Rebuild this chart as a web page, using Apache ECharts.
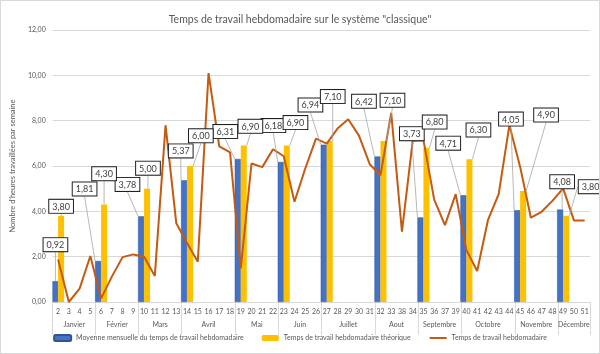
<!DOCTYPE html>
<html lang="fr">
<head>
<meta charset="UTF-8">
<title>Temps de travail hebdomadaire</title>
<script src="https://cdn.jsdelivr.net/npm/echarts@6/dist/echarts.min.js"></script>
<style>
  html, body { margin: 0; padding: 0; background: #ffffff; }
  #chart { width: 600px; height: 354px; box-sizing: border-box; border: 1px solid #d9d9d9; overflow: hidden; }
</style>
</head>
<body>
<div id="chart"></div>
<script>
// semaines (ordre de l'axe tel qu'affiché, 38 est entre 33 et 34)
const weeks = ['2', '3', '4', '5', '6', '7', '8', '9', '10', '11', '12', '13', '14', '15', '16', '17', '18',
  '19', '20', '21', '22', '23', '24', '25', '26', '27', '28', '29', '30', '31', '32', '33', '38', '34',
  '35', '36', '37', '39', '40', '41', '42', '43', '44', '45', '46', '47', '48', '49', '50', '51'];
const weeklyHours = [1.88, 0.00, 0.59, 2.03, 0.16, 1.12, 1.98, 2.10, 2.00, 1.15, 7.80, 3.47, 2.60, 1.78, 10.10, 6.87, 6.60,
  1.48, 6.11, 5.95, 6.74, 6.43, 4.42, 5.89, 7.21, 6.99, 7.65, 8.06, 7.34, 6.08, 5.59, 8.34, 3.10, 7.11,
  7.14, 4.52, 3.39, 4.76, 2.29, 1.37, 3.61, 4.76, 7.80, 5.96, 3.72, 3.98, 4.46, 5.01, 3.60, 3.60];

const months = ['Janvier', 'Février', 'Mars', 'Avril', 'Mai', 'Juin', 'Juillet', 'Aout', 'Septembre', 'Octobre', 'Novembre', 'Décembre'];
const monthWeekCount = [4, 4, 4, 5, 4, 4, 5, 4, 4, 5, 4, 3];
const monthlyAverage = [0.92, 1.81, 3.78, 5.37, 6.31, 6.18, 6.94, 6.42, 3.73, 4.71, 4.05, 4.08];
const theoreticalHours = [3.80, 4.30, 5.00, 6.00, 6.90, 6.90, 7.10, 7.10, 6.80, 6.30, 4.90, 3.80];

// décalage des étiquettes (dx, dy) par mois
const blueShift = [[0, -30], [-13.5, -65.5], [-13.6, -25.4], [-3.3, -22.9], [-12.5, -20.9], [-7.4, -29.8],
  [-13.3, -33.2], [-13.5, -48.7], [-8.6, -77.3], [-15.2, -45.6], [-6.2, -84.6], [2, -21.3]];
const yellowShift = [[0, -3], [0, -24.3], [0.9, -14], [10.8, -23.7], [6.6, -12.8], [8.7, -16.5],
  [3, -38], [9, -34.3], [8.2, -19.3], [9, -22.7], [22.9, -69.4], [24.5, -22.7]];

const starts = [];
let acc = 0;
monthWeekCount.forEach(n => { starts.push(acc); acc += n; });
const boundaries = starts.concat([acc]);

const blueData = weeks.map(() => '-');
const yellowData = weeks.map(() => '-');
starts.forEach((s, i) => {
  blueData[s] = monthlyAverage[i];
  yellowData[s] = theoreticalHours[i];
});

const fmt = v => v.toFixed(2).replace('.', ',');
const FONT = 'Lato';
const GREY = '#595959';
const BLUE_NAME = 'Moyenne mensuelle du temps de travail hebdomadaire';
const YELLOW_NAME = 'Temps de travail hebdomadaire théorique';
const LINE_NAME = 'Temps de travail hebdomadaire';

const boxLabel = {
  show: true,
  position: 'top',
  distance: 0,
  formatter: p => fmt(p.value),
  fontFamily: FONT,
  fontSize: 9,
  lineHeight: 10,
  color: '#404040',
  backgroundColor: '#ffffff',
  borderColor: '#1f1f1f',
  borderWidth: 1,
  padding: [2, 3, 1, 3]
};

function shiftLayout(shift) {
  return function (p) {
    const m = starts.indexOf(p.dataIndex);
    if (m < 0) return {};
    return { dx: shift[m][0], dy: shift[m][1] };
  };
}

// étiquettes portées par des barres transparentes, sur un axe caché identique,
// pour passer au-dessus de la courbe
function labelSeries(name, data, shift) {
  return {
    name: name,
    type: 'bar',
    xAxisIndex: 2,
    data: data,
    barWidth: 6,
    barGap: '0%',
    itemStyle: { color: 'rgba(0,0,0,0)' },
    label: boxLabel,
    labelLine: { show: true, lineStyle: { color: '#a6a6a6', width: 0.8 } },
    labelLayout: shiftLayout(shift),
    silent: true,
    z: 5
  };
}

const chart = echarts.init(document.getElementById('chart'));

chart.setOption({
  animation: false,
  textStyle: { fontFamily: FONT },
  title: {
    text: 'Temps de travail hebdomadaire sur le système "classique"',
    left: 'center',
    top: 8,
    textStyle: { fontFamily: FONT, fontSize: 10.5, fontWeight: 'normal', color: GREY }
  },
  legend: {
    bottom: 6,
    left: 'center',
    itemGap: 18,
    itemWidth: 17,
    itemHeight: 6,
    textStyle: { fontFamily: FONT, fontSize: 7, color: GREY },
    data: [
      BLUE_NAME,
      YELLOW_NAME,
      { name: LINE_NAME, itemStyle: { opacity: 0 } }
    ]
  },
  grid: { left: 44, right: 9, top: 29, bottom: 51 },
  xAxis: [
    {
      type: 'category',
      data: weeks,
      axisLine: { lineStyle: { color: '#d9d9d9' } },
      axisTick: {
        show: true,
        length: 33,
        interval: (index) => boundaries.indexOf(index) >= 0,
        lineStyle: { color: '#d9d9d9' }
      },
      axisLabel: { interval: 0, fontFamily: FONT, fontSize: 7, color: GREY, margin: 6 }
    },
    {
      type: 'value',
      min: 0,
      max: 50,
      interval: 0.5,
      position: 'bottom',
      offset: 14,
      axisLine: { show: false },
      axisTick: { show: false },
      splitLine: { show: false },
      axisLabel: {
        fontFamily: FONT,
        fontSize: 7,
        color: GREY,
        margin: 5,
        formatter: v => {
          for (let i = 0; i < months.length; i++) {
            if (starts[i] + monthWeekCount[i] / 2 === v) return months[i];
          }
          return '';
        }
      }
    },
    {
      type: 'category',
      data: weeks,
      show: false
    }
  ],
  yAxis: {
    type: 'value',
    min: 0,
    max: 12,
    interval: 2,
    name: "Nombre d'heures travaillées par semaine",
    nameLocation: 'middle',
    nameGap: 29,
    nameTextStyle: { fontFamily: FONT, fontSize: 7.5, color: GREY },
    axisLine: { show: false },
    axisTick: { show: false },
    axisLabel: { formatter: fmt, fontFamily: FONT, fontSize: 7, color: GREY, margin: 7 },
    splitLine: { lineStyle: { color: '#d9d9d9' } }
  },
  series: [
    {
      name: BLUE_NAME,
      type: 'bar',
      data: blueData,
      barWidth: 6,
      barGap: '0%',
      itemStyle: { color: '#4472c4', borderColor: '#2f5597', borderWidth: 0.5 },
      z: 2
    },
    {
      name: YELLOW_NAME,
      type: 'bar',
      data: yellowData,
      barWidth: 6,
      barGap: '0%',
      itemStyle: { color: '#ffc000' },
      z: 2
    },
    {
      name: LINE_NAME,
      type: 'line',
      data: weeklyHours,
      symbol: 'none',
      lineStyle: { color: '#c55a11', width: 2 },
      itemStyle: { color: '#c55a11' },
      z: 3
    },
    labelSeries(BLUE_NAME, blueData, blueShift),
    labelSeries(YELLOW_NAME, yellowData, yellowShift)
  ]
});
</script>
</body>
</html>
